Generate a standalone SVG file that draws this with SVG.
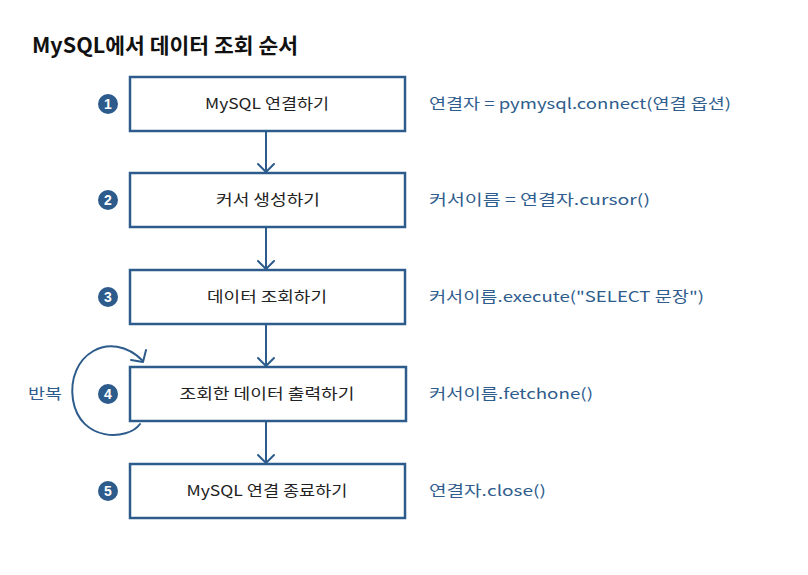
<svg xmlns="http://www.w3.org/2000/svg" width="808" height="575" viewBox="0 0 808 575">
<style>
.box{fill:#fff;stroke:#2d5c8c;stroke-width:2.5}
.bt{font-family:"Noto Sans CJK KR","Noto Sans",sans-serif;font-size:14.5px;fill:#222;text-anchor:middle}
.rt{font-family:"Noto Sans CJK KR","Noto Sans",sans-serif;font-size:14.5px;fill:#2f5d8d}
.num{fill:#2d5c8c}
.nt{font-family:"Liberation Sans",sans-serif;font-size:14px;font-weight:bold;fill:#fff;text-anchor:middle}
.ln{fill:none;stroke:#2d5c8c;stroke-width:2;stroke-linecap:round;stroke-linejoin:round}
</style>
<rect width="808" height="575" fill="#fff"/>
<text x="32" y="53" font-family="'Noto Sans CJK KR','Noto Sans',sans-serif" font-size="21" font-weight="bold" fill="#111" textLength="266" lengthAdjust="spacingAndGlyphs">MySQL에서 데이터 조회 순서</text>

<g id="connectors">
<path class="ln" d="M266,131 V172 M258,164 L266,172 L274,164"/>
<path class="ln" d="M266,227 V269 M258,261 L266,269 L274,261"/>
<path class="ln" d="M266,324 V366 M258,358 L266,366 L274,358"/>
<path class="ln" d="M266,421 V463 M258,455 L266,463 L274,455"/>
<path class="ln" stroke-width="2.5" d="M140,424 C128,441 80,442 73,400 C66,355 110,328 143,361"/>
<path class="ln" stroke-width="2.5" d="M131,360 L143,362 L146,350"/>
</g>

<g id="node1">
<rect class="box" x="130" y="77" width="275" height="54"/>
<text class="bt" x="267" y="109" textLength="124" lengthAdjust="spacingAndGlyphs">MySQL 연결하기</text>
<circle class="num" cx="108" cy="104" r="10"/><text class="nt" x="108" y="109">1</text>
<text class="rt" x="429" y="109" textLength="302" lengthAdjust="spacingAndGlyphs">연결자 = pymysql.connect(연결 옵션)</text>
</g>
<g id="node2">
<rect class="box" x="130" y="173" width="275" height="54"/>
<text class="bt" x="268" y="205" textLength="104" lengthAdjust="spacingAndGlyphs">커서 생성하기</text>
<circle class="num" cx="108" cy="200" r="10"/><text class="nt" x="108" y="205">2</text>
<text class="rt" x="429" y="205" textLength="221" lengthAdjust="spacingAndGlyphs">커서이름 = 연결자.cursor()</text>
</g>
<g id="node3">
<rect class="box" x="130" y="270" width="275" height="54"/>
<text class="bt" x="267" y="302" textLength="120" lengthAdjust="spacingAndGlyphs">데이터 조회하기</text>
<circle class="num" cx="108" cy="297" r="10"/><text class="nt" x="108" y="302">3</text>
<text class="rt" x="429" y="302" textLength="275" lengthAdjust="spacingAndGlyphs">커서이름.execute("SELECT 문장")</text>
</g>
<g id="node4">
<rect class="box" x="130" y="367" width="276" height="54"/>
<text class="bt" x="267" y="399" textLength="175" lengthAdjust="spacingAndGlyphs">조회한 데이터 출력하기</text>
<circle class="num" cx="108" cy="394" r="10"/><text class="nt" x="108" y="399">4</text>
<text class="rt" x="429" y="399" textLength="164" lengthAdjust="spacingAndGlyphs">커서이름.fetchone()</text>
<text x="28" y="399" font-family="'Noto Sans CJK KR','Noto Sans',sans-serif" font-size="15" fill="#2f5d8d" textLength="34" lengthAdjust="spacingAndGlyphs">반복</text>
</g>
<g id="node5">
<rect class="box" x="130" y="464" width="275" height="54"/>
<text class="bt" x="267" y="496" textLength="161" lengthAdjust="spacingAndGlyphs">MySQL 연결 종료하기</text>
<circle class="num" cx="108" cy="491" r="10"/><text class="nt" x="108" y="496">5</text>
<text class="rt" x="429" y="496" textLength="117" lengthAdjust="spacingAndGlyphs">연결자.close()</text>
</g>
</svg>
